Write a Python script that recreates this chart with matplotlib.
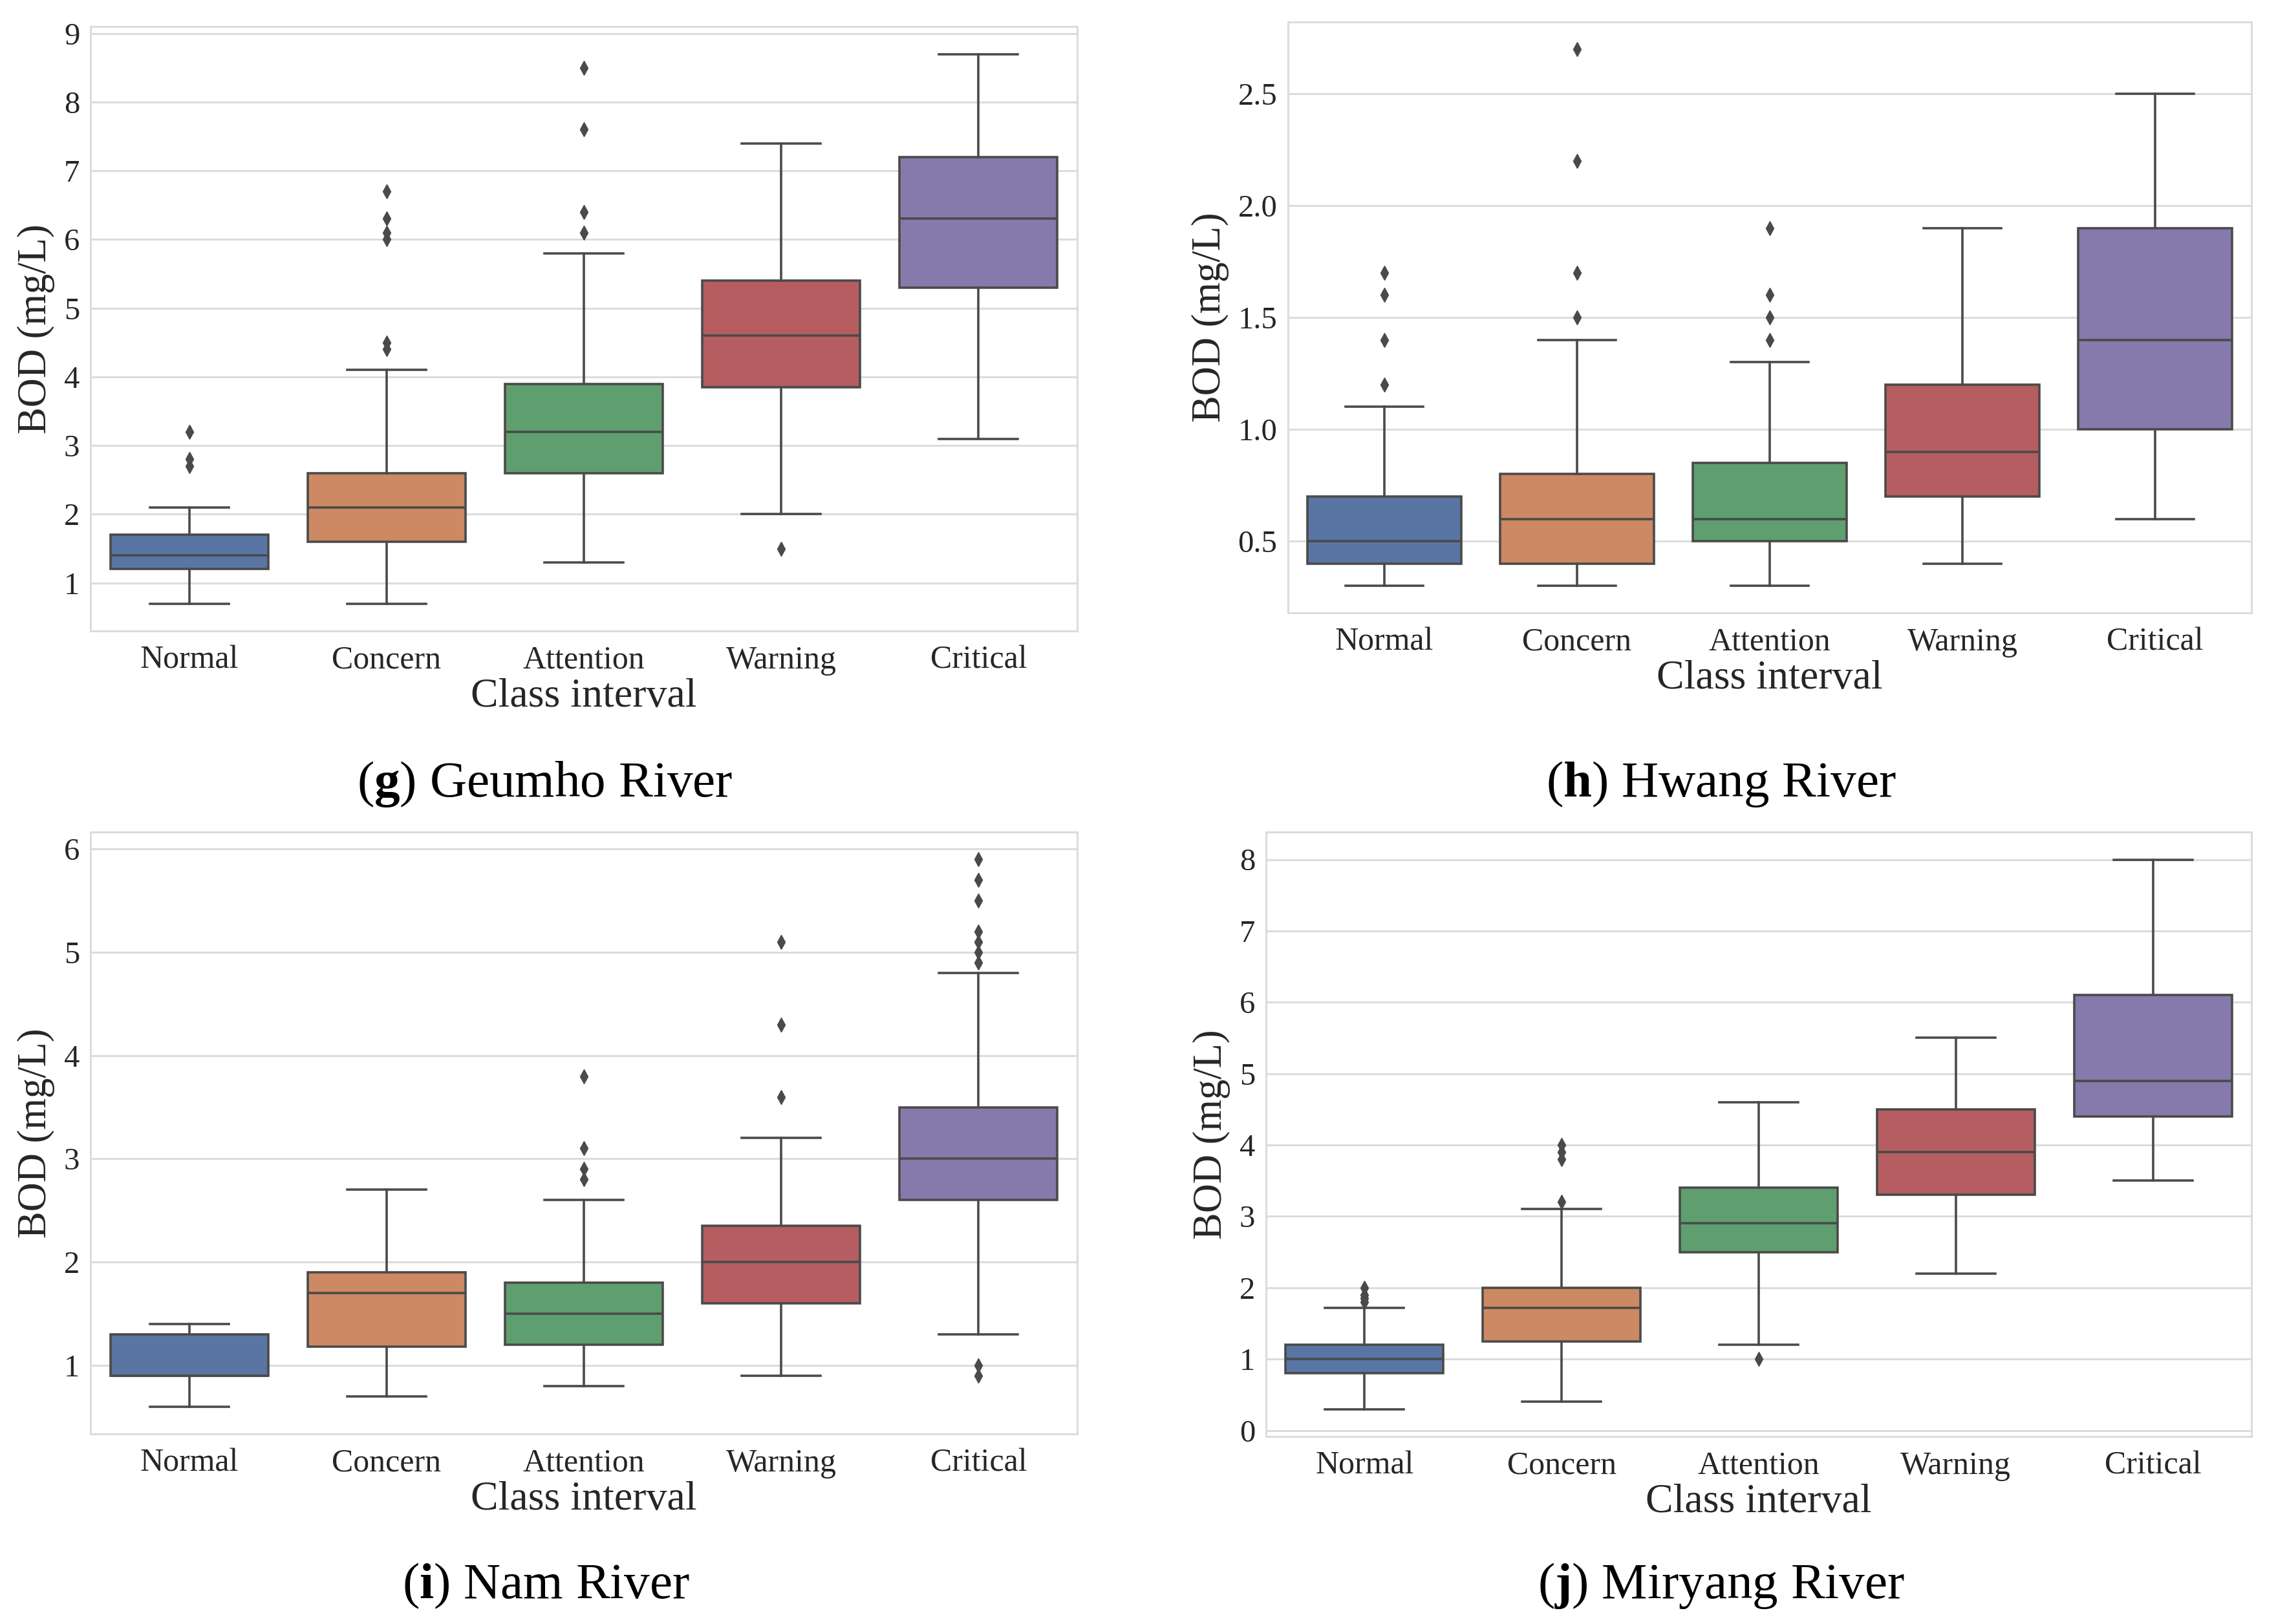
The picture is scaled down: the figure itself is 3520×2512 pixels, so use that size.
import colorsys
import matplotlib
matplotlib.use("Agg")
import matplotlib.pyplot as plt
from matplotlib.colors import to_rgb
from matplotlib.ticker import MultipleLocator

plt.rcParams['font.family'] = ['Liberation Serif', 'DejaVu Serif']
plt.rcParams['mathtext.fontset'] = 'custom'
plt.rcParams['mathtext.rm'] = 'Liberation Serif'
plt.rcParams['mathtext.bf'] = 'Liberation Serif:bold'

# ---------------- data ----------------
categories = ["Normal", "Concern", "Attention", "Warning", "Critical"]

# Geumho River (g)
geumho_whislo = [0.7, 0.7, 1.3, 2.0, 3.1]
geumho_q1 = [1.2, 1.6, 2.6, 3.85, 5.3]
geumho_med = [1.4, 2.1, 3.2, 4.6, 6.3]
geumho_q3 = [1.7, 2.6, 3.9, 5.4, 7.2]
geumho_whishi = [2.1, 4.1, 5.8, 7.4, 8.7]
geumho_fliers = [[2.7, 2.8, 3.2], [4.4, 4.5, 6.0, 6.1, 6.3, 6.7],
                 [6.1, 6.4, 7.6, 8.5], [1.5], []]

# Hwang River (h)
hwang_whislo = [0.3, 0.3, 0.3, 0.4, 0.6]
hwang_q1 = [0.4, 0.4, 0.5, 0.7, 1.0]
hwang_med = [0.5, 0.6, 0.6, 0.9, 1.4]
hwang_q3 = [0.7, 0.8, 0.85, 1.2, 1.9]
hwang_whishi = [1.1, 1.4, 1.3, 1.9, 2.5]
hwang_fliers = [[1.2, 1.4, 1.6, 1.7], [1.5, 1.7, 2.2, 2.7],
                [1.4, 1.5, 1.6, 1.9], [], []]

# Nam River (i)
nam_whislo = [0.6, 0.7, 0.8, 0.9, 1.3]
nam_q1 = [0.9, 1.18, 1.2, 1.6, 2.6]
nam_med = [0.9, 1.7, 1.5, 2.0, 3.0]
nam_q3 = [1.3, 1.9, 1.8, 2.35, 3.5]
nam_whishi = [1.4, 2.7, 2.6, 3.2, 4.8]
nam_fliers = [[], [], [2.8, 2.9, 3.1, 3.8], [3.6, 4.3, 5.1],
              [0.9, 1.0, 4.9, 5.0, 5.1, 5.2, 5.5, 5.7, 5.9]]

# Miryang River (j)
miryang_whislo = [0.3, 0.4, 1.2, 2.2, 3.5]
miryang_q1 = [0.8, 1.25, 2.5, 3.3, 4.4]
miryang_med = [1.0, 1.72, 2.9, 3.9, 4.9]
miryang_q3 = [1.2, 2.0, 3.4, 4.5, 6.1]
miryang_whishi = [1.72, 3.1, 4.6, 5.5, 8.0]
miryang_fliers = [[1.8, 1.85, 1.9, 2.0], [3.2, 3.8, 3.9, 4.0], [1.0], [], []]

river_letters = ["g", "h", "i", "j"]
river_names = ["Geumho River", "Hwang River", "Nam River", "Miryang River"]
y_steps = [1, 0.5, 1, 1]

# ---------------- style ----------------
deep = ["#4C72B0", "#DD8452", "#55A868", "#C44E52", "#8172B3"]


def desat(c, prop=0.75):
    h, l, s = colorsys.rgb_to_hls(*to_rgb(c))
    return colorsys.hls_to_rgb(h, l, s * prop)


box_colors = [desat(c) for c in deep]
line_gray = "#4a4a4a"
grid_gray = "#dcdcdc"

panels = [
    (geumho_whislo, geumho_q1, geumho_med, geumho_q3, geumho_whishi, geumho_fliers),
    (hwang_whislo, hwang_q1, hwang_med, hwang_q3, hwang_whishi, hwang_fliers),
    (nam_whislo, nam_q1, nam_med, nam_q3, nam_whishi, nam_fliers),
    (miryang_whislo, miryang_q1, miryang_med, miryang_q3, miryang_whishi, miryang_fliers),
]

W, H = 3520, 2512
# axes rectangles in pixel coords (left, top, right, bottom)
rects_px = [(140, 41, 1666, 976), (1992, 34, 3482, 948),
            (140, 1287, 1666, 2218), (1958, 1287, 3482, 2222)]
caption_pos = [(843, 1232), (2662, 1232), (844, 2472), (2662, 2472)]

fig = plt.figure(figsize=(W / 100, H / 100), dpi=100)
fig.patch.set_facecolor("white")

lw = 2.6
for k, (lo, q1, med, q3, hi, fl) in enumerate(panels):
    l, t, r, b = rects_px[k]
    ax = fig.add_axes([l / W, 1 - b / H, (r - l) / W, (b - t) / H])
    stats = []
    for i in range(len(categories)):
        stats.append(dict(whislo=lo[i], q1=q1[i], med=med[i], q3=q3[i],
                          whishi=hi[i], fliers=fl[i], label=categories[i]))
    bp = ax.bxp(stats, positions=range(len(categories)), widths=0.8,
                patch_artist=True, showfliers=True,
                boxprops=dict(edgecolor=line_gray, linewidth=lw),
                medianprops=dict(color=line_gray, linewidth=lw),
                whiskerprops=dict(color=line_gray, linewidth=lw),
                capprops=dict(color=line_gray, linewidth=lw),
                flierprops=dict(marker="d", markersize=11,
                                markerfacecolor=line_gray,
                                markeredgecolor=line_gray, linestyle="none"))
    for patch, c in zip(bp["boxes"], box_colors):
        patch.set_facecolor(c)
    ax.set_xlim(-0.5, len(categories) - 0.5)
    ax.yaxis.set_major_locator(MultipleLocator(y_steps[k]))
    ax.set_axisbelow(True)
    ax.grid(axis="y", color=grid_gray, linewidth=2.2)
    ax.grid(axis="x", visible=False)
    for sp in ax.spines.values():
        sp.set_color(grid_gray)
        sp.set_linewidth(2.2)
    ax.tick_params(axis="both", length=0, colors="#262626")
    ax.tick_params(axis="x", labelsize=36, pad=16)
    ax.tick_params(axis="y", labelsize=35, pad=12)
    ax.set_xlabel("Class interval", fontsize=46, color="#262626", labelpad=3)
    ax.set_ylabel("BOD (mg/L)", fontsize=45, color="#262626", labelpad=10)

    cx, cy = caption_pos[k]
    fig.text(cx / W, 1 - cy / H,
             "(" + r"$\mathbf{" + river_letters[k] + "}$" + ") " + river_names[k],
             ha="center", va="baseline", fontsize=57, color="black")

fig.savefig("out.png", dpi=100, facecolor="white")
